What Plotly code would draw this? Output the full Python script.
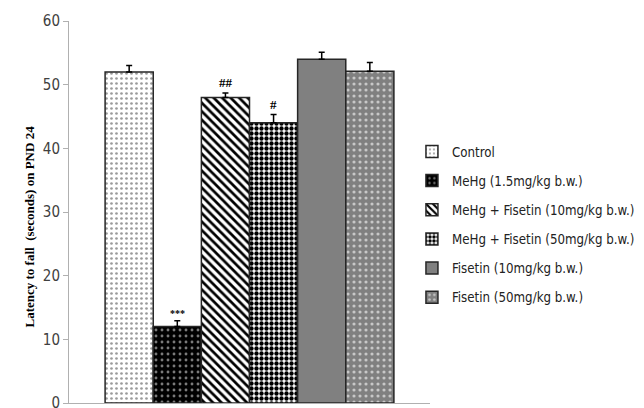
import plotly.graph_objects as go

# Group means and SEM (upper bar only) for latency to fall on PND 24
groups = [
    "Control",
    "MeHg (1.5mg/kg b.w.)",
    "MeHg + Fisetin (10mg/kg b.w.)",
    "MeHg + Fisetin (50mg/kg b.w.)",
    "Fisetin (10mg/kg b.w.)",
    "Fisetin (50mg/kg b.w.)",
]
latency = [52, 12, 48, 44, 54, 52.1]
sem = [1.0, 0.9, 0.7, 1.3, 1.1, 1.4]
significance = ["", "***", "##", "#", "", ""]

# Fill style per group: (background, pattern shape, pattern colour, size, solidity)
styles = [
    ("white", ".", "#9a9a9a", 5, 0.22),
    ("black", ".", "#7a7a7a", 6, 0.18),
    ("white", "\\", "black", 6, 0.45),
    ("white", ".", "black", 5, 0.6),
    ("#808080", "", "#808080", 6, 0.2),
    ("#808080", ".", "#c8c8c8", 6, 0.22),
]

SANS = "DejaVu Sans Condensed, Liberation Sans Narrow, Lato, sans-serif"
SERIF = "Liberation Serif, Times New Roman, serif"

fig = go.Figure()
for i, name in enumerate(groups):
    bg, shape, fg, size, solid = styles[i]
    fig.add_trace(go.Bar(
        x=["PND 24"],
        y=[latency[i]],
        name=name,
        legendgroup=name,
        marker=dict(
            color=bg,
            line=dict(color="#262626", width=1.5),
            pattern=dict(shape=shape, fgcolor=fg, bgcolor=bg, size=size,
                         solidity=solid, fillmode="replace"),
        ),
        error_y=dict(type="data", symmetric=False, array=[sem[i]],
                     arrayminus=[0], color="black", thickness=1.5, width=3),
    ))

fig.update_layout(
    width=644, height=408,
    margin=dict(l=69, r=214, t=21, b=5, autoexpand=False),
    paper_bgcolor="white", plot_bgcolor="white",
    barmode="group", bargap=0.2, bargroupgap=0,
    showlegend=True,
    legend=dict(
        x=0.95, y=0.698, xanchor="left", yanchor="top",
        traceorder="grouped", tracegroupgap=9,
        font=dict(family=SANS, size=13.2, color="#222222"),
        itemwidth=30,
    ),
    xaxis=dict(showticklabels=False, showline=True, linecolor="#b0b0b0",
               linewidth=1, ticks="", automargin=False),
    yaxis=dict(
        range=[0, 60], dtick=10, showgrid=False, zeroline=False,
        showline=True, linecolor="#b0b0b0", linewidth=1,
        ticks="outside", ticklen=5, tickcolor="#b0b0b0",
        ticklabeloverflow="allow", automargin=False,
        tickfont=dict(family=SANS, size=15, color="#404040"),
    ),
)

# Axis title, set a little below the axis midpoint
fig.add_annotation(
    x=(20 - 69) / 361, y=(403 - 227) / 382, xref="paper", yref="paper",
    showarrow=False, textangle=-90,
    text="<b>Latency to fall  (seconds) on PND 24</b>",
    font=dict(family=SERIF, size=13, color="black"),
)

# Significance markers above the error bars
offsets = [-2.5, -1.5, -0.5, 0.5, 1.5, 2.5]
for i, mark in enumerate(significance):
    if mark:
        fig.add_annotation(
            x=0, y=latency[i] + sem[i], xref="x", yref="y",
            xshift=offsets[i] * 48, yshift=10 if mark != "***" else 7,
            text=f"<b>{mark}</b>", showarrow=False,
            font=dict(family=SERIF, size=13 if mark != "***" else 10, color="black"),
        )

fig.write_html("out.html")
